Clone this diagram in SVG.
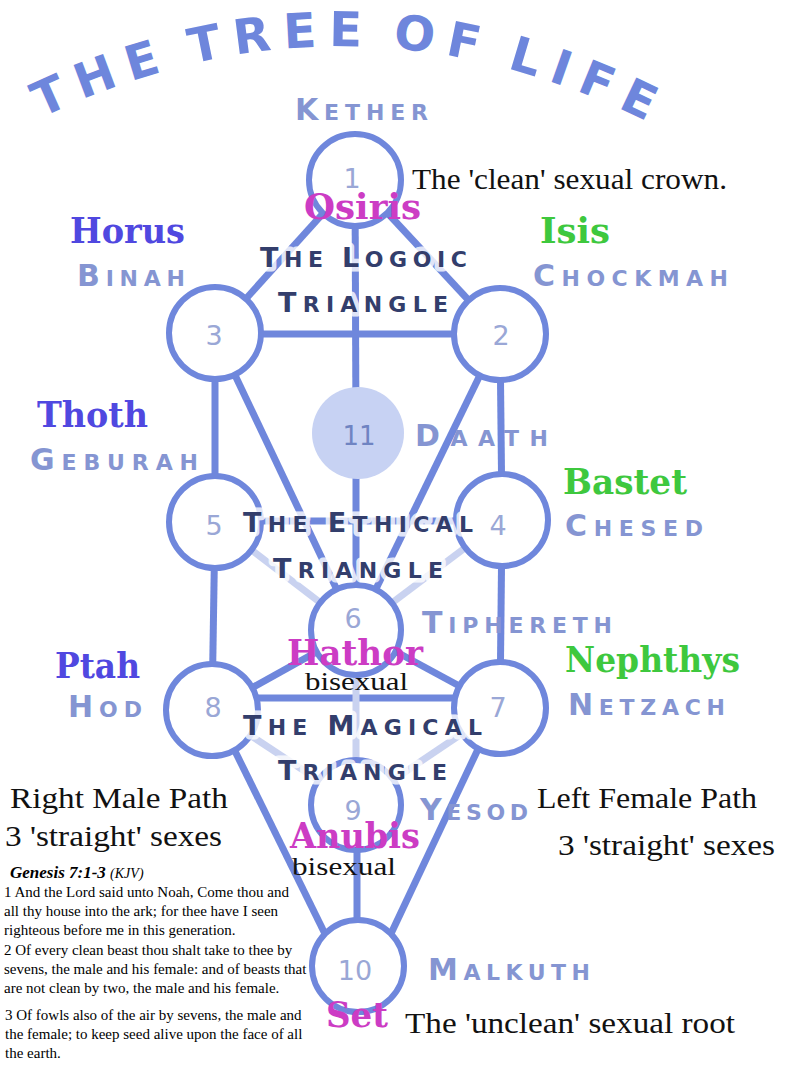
<svg xmlns="http://www.w3.org/2000/svg" width="785" height="1069" viewBox="0 0 785 1069">
<style>
.c{fill:#fff;stroke:#6f87dc;stroke-width:6}
.p{stroke:#6f87dc;stroke-width:7;fill:none}
.pf{stroke:#c9d2f0;stroke-width:7;fill:none}
.title{font-family:"DejaVu Sans",sans-serif;font-weight:bold;font-size:48px;fill:#6e86dc;letter-spacing:12px;word-spacing:-10px}
.s{font-family:"DejaVu Sans",sans-serif;font-weight:bold;font-size:22px;fill:#8595d2}
.s .b{font-size:30px}
.t{font-family:"DejaVu Sans",sans-serif;font-weight:bold;font-size:22px;fill:#333e6c;stroke:#fff;stroke-width:9px;stroke-opacity:0.8;paint-order:stroke;stroke-linejoin:round}
.t .b{font-size:27px}
.n{font-family:"DejaVu Sans",sans-serif;font-size:27px;fill:#9aa7d6;text-anchor:middle}
.g{font-family:"DejaVu Serif",serif;font-weight:bold;font-size:36px}
.blue{fill:#5048e0}
.green{fill:#3ec83e}
.mag{fill:#cc3cc4}
.h{font-family:"Liberation Serif",serif;font-size:29px;fill:#111}
.k{font-family:"Liberation Serif",serif;font-size:15px;fill:#000}
</style>
<defs>
<path id="arc" d="M 41,118 Q 346,-28 650,123"/>
</defs>

<g id="title">
<text class="title"><textPath href="#arc" startOffset="0">THE TREE OF LIFE</textPath></text>
</g>

<g id="connectors">
<line class="p" x1="355" y1="178" x2="215" y2="333"/>
<line class="p" x1="355" y1="178" x2="500" y2="334"/>
<line class="p" x1="355" y1="178" x2="356" y2="433"/>
<line class="p" x1="215" y1="334" x2="500" y2="334"/>
<line class="p" x1="215" y1="333" x2="215" y2="522"/>
<line class="p" x1="500" y1="334" x2="502" y2="520"/>
<line class="p" x1="215" y1="333" x2="356" y2="630"/>
<line class="p" x1="500" y1="334" x2="356" y2="630"/>
<line class="p" x1="356" y1="433" x2="356" y2="630"/>
<line class="p" x1="215" y1="521" x2="502" y2="521"/>
<line class="pf" x1="215" y1="522" x2="356" y2="630"/>
<line class="pf" x1="502" y1="520" x2="356" y2="630"/>
<line class="p" x1="215" y1="522" x2="212" y2="710"/>
<line class="p" x1="502" y1="520" x2="500" y2="708"/>
<line class="p" x1="356" y1="630" x2="212" y2="710"/>
<line class="p" x1="356" y1="630" x2="500" y2="708"/>
<line class="p" x1="212" y1="698" x2="500" y2="698"/>
<line class="pf" x1="356" y1="630" x2="356" y2="805"/>
<line class="pf" x1="212" y1="710" x2="356" y2="805"/>
<line class="pf" x1="500" y1="708" x2="356" y2="805"/>
<line class="p" x1="232" y1="745" x2="328" y2="940"/>
<line class="p" x1="480" y1="745" x2="388" y2="940"/>
<line class="p" x1="357" y1="805" x2="357" y2="966"/>
</g>

<g id="n1"><circle class="c" cx="355" cy="180" r="46"/><text class="n" x="352" y="188">1</text></g>
<g id="n3"><circle class="c" cx="215" cy="333" r="46"/><text class="n" x="214" y="345">3</text></g>
<g id="n2"><circle class="c" cx="500" cy="334" r="46"/><text class="n" x="501" y="345">2</text></g>
<g id="n11"><circle cx="358" cy="433" r="46" fill="#c7d2f3"/><text class="n" x="359" y="445" style="fill:#6f84c2;font-size:26px">11</text></g>
<g id="n5"><circle class="c" cx="215" cy="522" r="46"/><text class="n" x="214" y="535">5</text></g>
<g id="n4"><circle class="c" cx="502" cy="520" r="46"/><text class="n" x="498" y="535">4</text></g>
<g id="n6"><circle class="c" cx="356" cy="630" r="45"/><text class="n" x="353" y="628">6</text></g>
<g id="n8"><circle class="c" cx="212" cy="710" r="46"/><text class="n" x="213" y="717">8</text></g>
<g id="n7"><circle class="c" cx="500" cy="708" r="46"/><text class="n" x="498" y="717">7</text></g>
<g id="n9"><circle class="c" cx="356" cy="805" r="45"/><text class="n" x="353" y="820">9</text></g>
<g id="n10"><circle class="c" cx="358" cy="966" r="46"/><text class="n" x="355" y="980">10</text></g>

<g id="sephira-names">
<text class="s" x="295" y="120" textLength="133" lengthAdjust="spacing"><tspan class="b">K</tspan>ETHER</text>
<text class="s" x="77" y="286" textLength="108" lengthAdjust="spacing"><tspan class="b">B</tspan>INAH</text>
<text class="s" x="533" y="286" textLength="195" lengthAdjust="spacing"><tspan class="b">C</tspan>HOCKMAH</text>
<text class="s" x="415" y="446" textLength="133" lengthAdjust="spacing"><tspan class="b">D</tspan>AATH</text>
<text class="s" x="30" y="470" textLength="168" lengthAdjust="spacing"><tspan class="b">G</tspan>EBURAH</text>
<text class="s" x="565" y="536" textLength="138" lengthAdjust="spacing"><tspan class="b">C</tspan>HESED</text>
<text class="s" x="422" y="633" textLength="190" lengthAdjust="spacing"><tspan class="b">T</tspan>IPHERETH</text>
<text class="s" x="68" y="717" textLength="74" lengthAdjust="spacing"><tspan class="b">H</tspan>OD</text>
<text class="s" x="568" y="715" textLength="157" lengthAdjust="spacing"><tspan class="b">N</tspan>ETZACH</text>
<text class="s" x="420" y="820" textLength="108" lengthAdjust="spacing"><tspan class="b">Y</tspan>ESOD</text>
<text class="s" x="428" y="980" textLength="162" lengthAdjust="spacing"><tspan class="b">M</tspan>ALKUTH</text>
</g>

<g id="triangles">
<text class="t" x="260" y="267" textLength="207" lengthAdjust="spacing"><tspan class="b">T</tspan>HE <tspan class="b">L</tspan>OGOIC</text>
<text class="t" x="278" y="312" textLength="170" lengthAdjust="spacing"><tspan class="b">T</tspan>RIANGLE</text>
<text class="t" x="243" y="532" textLength="230" lengthAdjust="spacing"><tspan class="b">T</tspan>HE <tspan class="b">E</tspan>THICAL</text>
<text class="t" x="273" y="578" textLength="170" lengthAdjust="spacing"><tspan class="b">T</tspan>RIANGLE</text>
<text class="t" x="243" y="735" textLength="239" lengthAdjust="spacing"><tspan class="b">T</tspan>HE <tspan class="b">M</tspan>AGICAL</text>
<text class="t" x="278" y="780" textLength="169" lengthAdjust="spacing"><tspan class="b">T</tspan>RIANGLE</text>
</g>

<g id="deities">
<text class="g mag" x="304" y="219" textLength="117" lengthAdjust="spacingAndGlyphs">Osiris</text>
<text class="g blue" x="70" y="243" textLength="115" lengthAdjust="spacingAndGlyphs">Horus</text>
<text class="g green" x="540" y="243" textLength="70" lengthAdjust="spacingAndGlyphs">Isis</text>
<text class="g blue" x="37" y="427" textLength="111" lengthAdjust="spacingAndGlyphs">Thoth</text>
<text class="g green" x="563" y="494" textLength="124" lengthAdjust="spacingAndGlyphs">Bastet</text>
<text class="g mag" x="287" y="665" textLength="136" lengthAdjust="spacingAndGlyphs">Hathor</text>
<text class="g blue" x="55" y="678" textLength="85" lengthAdjust="spacingAndGlyphs">Ptah</text>
<text class="g green" x="565" y="672" textLength="175" lengthAdjust="spacingAndGlyphs">Nephthys</text>
<text class="g mag" x="290" y="848" textLength="130" lengthAdjust="spacingAndGlyphs">Anubis</text>
<text class="g mag" x="326" y="1027" textLength="62" lengthAdjust="spacingAndGlyphs">Set</text>
</g>

<g id="notes">
<text class="h" x="412" y="189" textLength="315" lengthAdjust="spacingAndGlyphs">The 'clean' sexual crown.</text>
<text class="h" x="305" y="690" textLength="103" lengthAdjust="spacingAndGlyphs" style="font-size:25px">bisexual</text>
<text class="h" x="10" y="808" textLength="218" lengthAdjust="spacingAndGlyphs">Right Male Path</text>
<text class="h" x="5" y="846" textLength="217" lengthAdjust="spacingAndGlyphs">3 'straight' sexes</text>
<text class="h" x="537" y="808" textLength="220" lengthAdjust="spacingAndGlyphs">Left Female Path</text>
<text class="h" x="558" y="855" textLength="217" lengthAdjust="spacingAndGlyphs">3 'straight' sexes</text>
<text class="h" x="292" y="875" textLength="104" lengthAdjust="spacingAndGlyphs" style="font-size:25px">bisexual</text>
<text class="h" x="405" y="1033" textLength="330" lengthAdjust="spacingAndGlyphs">The 'unclean' sexual root</text>
</g>

<g id="genesis">
<text x="10" y="878" style="font-family:'Liberation Serif',serif;font-style:italic;font-weight:bold;font-size:17px"><tspan>Genesis 7:1-3 </tspan><tspan style="font-weight:normal;font-size:14px">(KJV)</tspan></text>
<text class="k" x="4" y="897">1 And the Lord said unto Noah, Come thou and</text>
<text class="k" x="4" y="916">all thy house into the ark; for thee have I seen</text>
<text class="k" x="4" y="935">righteous before me in this generation.</text>
<text class="k" x="4" y="955">2 Of every clean beast thou shalt take to thee by</text>
<text class="k" x="4" y="974">sevens, the male and his female: and of beasts that</text>
<text class="k" x="4" y="993">are not clean by two, the male and his female.</text>
<text class="k" x="5" y="1020">3 Of fowls also of the air by sevens, the male and</text>
<text class="k" x="5" y="1039">the female; to keep seed alive upon the face of all</text>
<text class="k" x="5" y="1058">the earth.</text>
</g>
</svg>
